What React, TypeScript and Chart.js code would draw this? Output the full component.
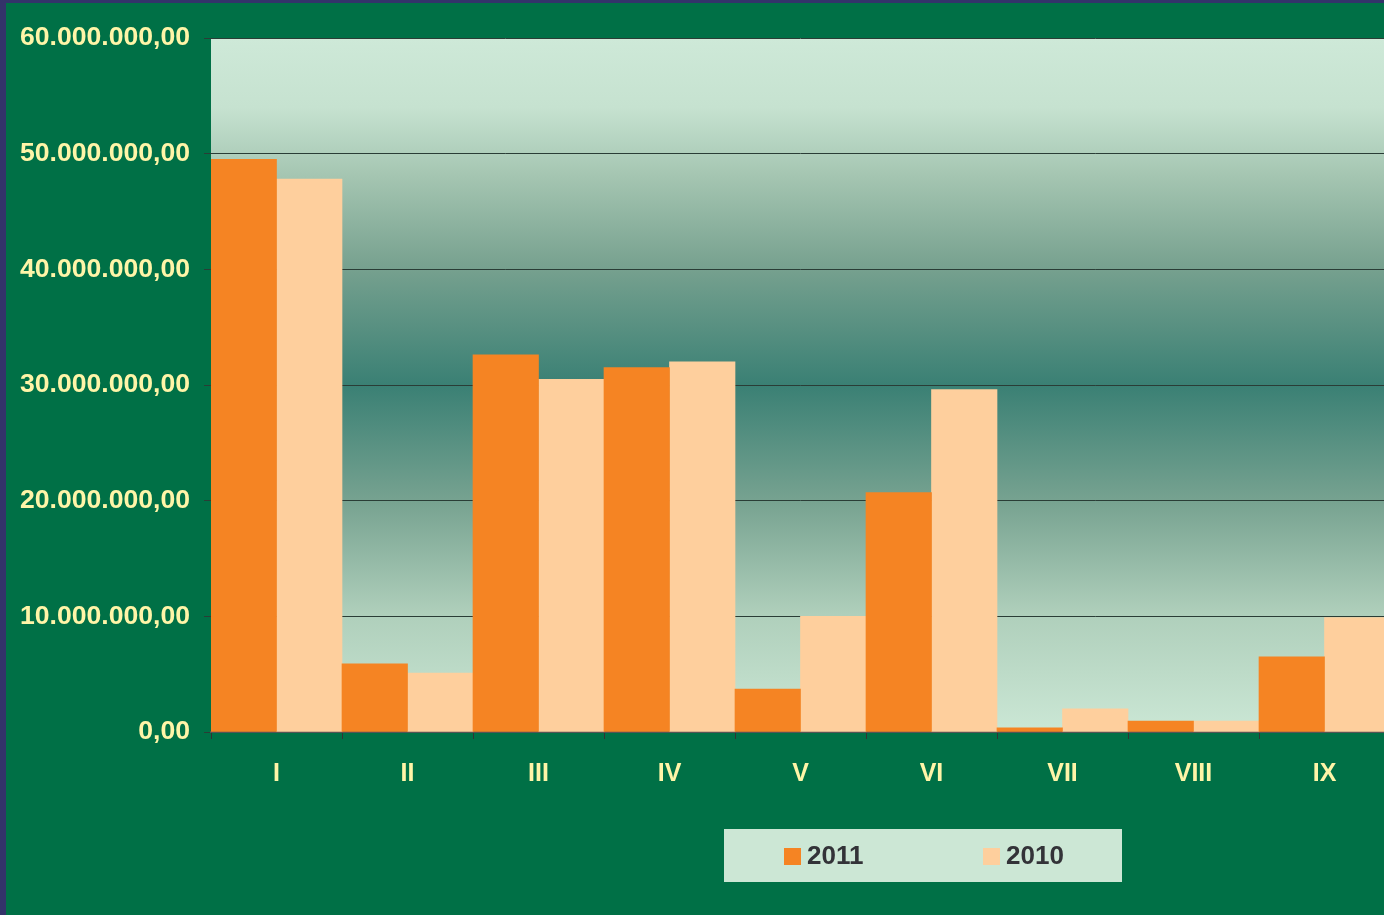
import React, { useEffect, useRef } from "react";
import { Chart, registerables } from "chart.js";

Chart.register(...registerables);

const categories = ["I", "II", "III", "IV", "V", "VI", "VII", "VIII", "IX"];
const series2011 = [49500000, 5900000, 32600000, 31500000, 3700000, 20700000, 350000, 950000, 6500000];
const series2010 = [47800000, 5100000, 30500000, 32000000, 10000000, 29600000, 2000000, 950000, 9900000];
const seriesLabels = ["2011", "2010"];
const seriesColors = ["#f58423", "#fecf9d"];

const fmt = (v: number) => {
  const int = Math.round(v).toString().replace(/\B(?=(\d{3})+(?!\d))/g, ".");
  return int + ",00";
};

const FONT = "'Liberation Sans', Arial, sans-serif";

const bgPlugin = {
  id: "bgPlugin",
  beforeDraw(chart: any) {
    const { ctx, chartArea: a, width, height } = chart;
    ctx.save();
    ctx.fillStyle = "#33336a";
    ctx.fillRect(0, 0, width, height);
    ctx.fillStyle = "#007046";
    ctx.fillRect(6, 3, width - 6, height - 3);
    const g = ctx.createLinearGradient(0, a.top, 0, a.bottom);
    g.addColorStop(0, "#cee9d8");
    g.addColorStop(0.1, "#c6e2d0");
    g.addColorStop(0.2, "#a4c5b1");
    g.addColorStop(0.33, "#77a18f");
    g.addColorStop(0.5, "#3a8074");
    g.addColorStop(0.67, "#78a391");
    g.addColorStop(0.83, "#afcfbb");
    g.addColorStop(1, "#cbe7d5");
    ctx.fillStyle = g;
    ctx.fillRect(a.left, a.top, a.right - a.left, a.bottom - a.top);
    ctx.restore();
  },
  afterDraw(chart: any) {
    const { ctx } = chart;
    ctx.save();
    ctx.fillStyle = "#cce7d5";
    ctx.fillRect(724, 829, 398, 53);
    const items = chart.data.datasets;
    const xs = [784, 983];
    ctx.font = `bold 26px ${FONT}`;
    ctx.textBaseline = "middle";
    ctx.textAlign = "left";
    items.forEach((ds: any, i: number) => {
      ctx.fillStyle = ds.backgroundColor;
      ctx.fillRect(xs[i], 848, 17, 17);
      ctx.fillStyle = "#333338";
      ctx.fillText(ds.label, xs[i] + 23, 857);
    });
    ctx.restore();
  },
};

export default function App() {
  const ref = useRef<HTMLCanvasElement>(null);
  useEffect(() => {
    if (!ref.current) return;
    const chart = new Chart(ref.current, {
      type: "bar",
      data: {
        labels: categories,
        datasets: [
          { label: seriesLabels[0], data: series2011, backgroundColor: seriesColors[0], categoryPercentage: 1, barPercentage: 1 },
          { label: seriesLabels[1], data: series2010, backgroundColor: seriesColors[1], categoryPercentage: 1, barPercentage: 1 },
        ],
      },
      options: {
        animation: false,
        responsive: false,
        maintainAspectRatio: false,
        layout: { padding: { left: 6, top: 38, right: 0, bottom: 0 } },
        plugins: { legend: { display: false }, tooltip: { enabled: false } },
        scales: {
          x: {
            afterFit: (s: any) => { s.height = 183; },
            grid: { drawOnChartArea: false, drawTicks: true, tickLength: 7, color: "#333333", offset: true },
            border: { display: true, color: "#555555", width: 2 },
            ticks: {
              color: "#fff5a8",
              padding: 20,
              maxRotation: 0,
              font: { family: FONT, size: 25, weight: "bold" },
            },
          },
          y: {
            min: 0,
            max: 60000000,
            afterFit: (s: any) => { s.width = 205; },
            grid: { color: "#2a3d36", lineWidth: 1, tickLength: 7, drawTicks: true },
            border: { display: false },
            ticks: {
              stepSize: 10000000,
              color: "#fff5a8",
              padding: 14,
              font: { family: FONT, size: 26.6, weight: "bold" },
              callback: (v: any) => fmt(Number(v)),
            },
          },
        },
      },
      plugins: [bgPlugin],
    });
    return () => chart.destroy();
  }, []);
  return (
    <div style={{ position: "fixed", left: 0, top: 0, width: 1384, height: 915, overflow: "hidden" }}>
      <canvas ref={ref} width={1390} height={915} style={{ width: 1390, height: 915, display: "block" }} />
    </div>
  );
}
